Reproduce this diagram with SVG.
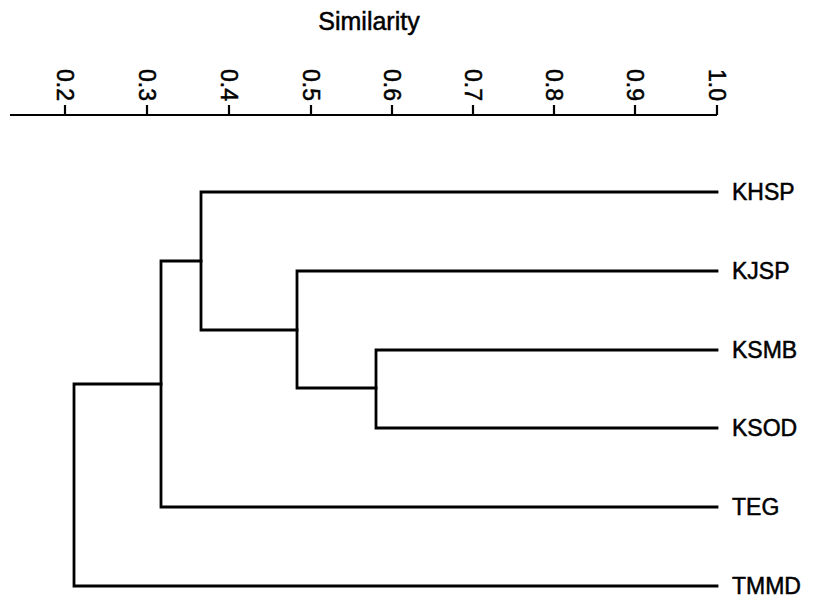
<svg xmlns="http://www.w3.org/2000/svg" width="813" height="603" viewBox="0 0 813 603">
<style>
text{font-family:"Liberation Sans",Arial,sans-serif;fill:#000;stroke:#000;stroke-width:0.5}
.title{font-size:25px}
.tick{font-size:23px}
.leaf{font-size:23px}
.ax{stroke:#000;stroke-width:2.2;fill:none}
.br{stroke:#000;stroke-width:2.8;fill:none;stroke-linejoin:miter;stroke-linecap:square}
</style>
<rect width="813" height="603" fill="#fff"/>
<g id="axis">
<text class="title" x="369" y="30" text-anchor="middle">Similarity</text>
<path class="ax" d="M10 115 H717 M65 105 V115 M147 105 V115 M229 105 V115 M311 105 V115 M392 105 V115 M473 105 V115 M554 105 V115 M635 105 V115 M717 105 V115"/>
<g class="tick" text-anchor="end">
<text transform="translate(57 101) rotate(90)">0.2</text>
<text transform="translate(139 101) rotate(90)">0.3</text>
<text transform="translate(221 101) rotate(90)">0.4</text>
<text transform="translate(303 101) rotate(90)">0.5</text>
<text transform="translate(384 101) rotate(90)">0.6</text>
<text transform="translate(465 101) rotate(90)">0.7</text>
<text transform="translate(546 101) rotate(90)">0.8</text>
<text transform="translate(627 101) rotate(90)">0.9</text>
<text transform="translate(709 101) rotate(90)">1.0</text>
</g>
</g>
<g id="connectors">
<path class="br" d="M717 350 H376 V428 H717"/>
<path class="br" d="M717 271 H297 V388 H376"/>
<path class="br" d="M717 192 H201 V330 H297"/>
<path class="br" d="M201 261 H161 V507 H717"/>
<path class="br" d="M161 384 H74 V586 H717"/>
</g>
<g id="KHSP"><text class="leaf" x="732" y="200">KHSP</text></g>
<g id="KJSP"><text class="leaf" x="732" y="279">KJSP</text></g>
<g id="KSMB"><text class="leaf" x="732" y="358">KSMB</text></g>
<g id="KSOD"><text class="leaf" x="732" y="436">KSOD</text></g>
<g id="TEG"><text class="leaf" x="732" y="515">TEG</text></g>
<g id="TMMD"><text class="leaf" x="732" y="594">TMMD</text></g>
</svg>
